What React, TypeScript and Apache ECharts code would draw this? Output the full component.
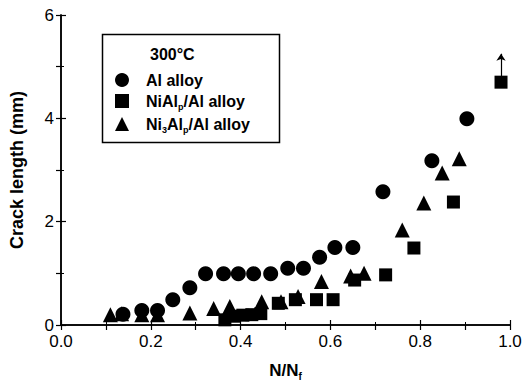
import React, { useEffect, useRef } from 'react';
import * as echarts from 'echarts';

const seriesNames = ['Al alloy', 'NiAlp/Al alloy', 'Ni3Alp/Al alloy'];
const legendTitle = '300°C';
const xTicks = [0, 0.2, 0.4, 0.6, 0.8, 1.0];
const yTicks = [0, 2, 4, 6];

const alAlloy: [number, number][] = [
  [0.138, 0.21], [0.18, 0.28], [0.215, 0.28], [0.249, 0.49], [0.287, 0.72],
  [0.322, 0.99], [0.362, 0.99], [0.395, 0.99], [0.429, 0.99], [0.467, 0.99],
  [0.505, 1.1], [0.54, 1.1], [0.576, 1.31], [0.61, 1.5], [0.65, 1.5],
  [0.717, 2.58], [0.826, 3.18], [0.904, 3.99],
];
const niAlp: [number, number][] = [
  [0.365, 0.1], [0.385, 0.17], [0.405, 0.19], [0.425, 0.2], [0.445, 0.22],
  [0.484, 0.42], [0.522, 0.49], [0.569, 0.49], [0.606, 0.49], [0.654, 0.87],
  [0.723, 0.97], [0.786, 1.49], [0.874, 2.38], [0.98, 4.7],
];
const ni3Alp: [number, number][] = [
  [0.11, 0.2], [0.135, 0.22], [0.18, 0.2], [0.215, 0.2], [0.287, 0.23],
  [0.34, 0.32], [0.376, 0.36], [0.447, 0.45], [0.49, 0.45], [0.528, 0.55],
  [0.58, 0.84], [0.645, 0.95], [0.675, 1.0], [0.76, 1.84], [0.808, 2.36],
  [0.849, 2.94], [0.887, 3.22],
];
const arrowFrom: [number, number] = [0.98, 4.8];
const arrowTo: [number, number] = [0.98, 5.25];

const FONT = 'Liberation Sans, Arial, sans-serif';

export default function App() {
  const ref = useRef<HTMLDivElement>(null);
  useEffect(() => {
    document.body.style.margin = '0';
    const chart = echarts.init(ref.current!, null, { renderer: 'svg' });
    const axisLine = { show: true, lineStyle: { color: '#000', width: 1.5 } };
    const richLegend = {
      g: { width: 12 },
      a: { fontFamily: FONT, fontWeight: 'bold', fontSize: 16, color: '#000', lineHeight: 18 },
      s: { fontFamily: FONT, fontWeight: 'bold', fontSize: 9, color: '#000', padding: [11, 0, 0, 0] },
    };
    const markerStyle = { color: '#000', opacity: 1 };
    chart.setOption({
      animation: false,
      backgroundColor: '#fff',
      grid: { left: 59, right: 19, top: 15, bottom: 67 },
      xAxis: [
        {
          type: 'value', min: 0, max: 1, interval: 0.2,
          axisLine,
          axisTick: { show: true, inside: true, length: 5, lineStyle: { color: '#000', width: 1.2 } },
          minorTick: { show: true, splitNumber: 2, length: 3, lineStyle: { color: '#000', width: 1 } },
          splitLine: { show: false },
          axisLabel: {
            fontFamily: FONT, fontSize: 17, color: '#000', margin: 8,
            formatter: (v: number) => (xTicks.includes(Math.round(v * 10) / 10) ? v.toFixed(1) : ''),
          },
          name: '{b|N/N}{s|f}',
          nameLocation: 'middle',
          nameGap: 35,
          nameTextStyle: {
            rich: {
              b: { fontFamily: FONT, fontWeight: 'bold', fontSize: 17, color: '#000' },
              s: { fontFamily: FONT, fontWeight: 'bold', fontSize: 10, color: '#000', padding: [11, 0, 0, 0] },
            },
          },
        },
        {
          type: 'value', position: 'top', min: 0, max: 1, interval: 0.1,
          axisLine,
          axisTick: { show: true, inside: true, length: 5, lineStyle: { color: '#000', width: 1.2 } },
          axisLabel: { show: false },
          splitLine: { show: false },
        },
      ],
      yAxis: [
        {
          type: 'value', min: 0, max: 6, interval: 2,
          axisLine,
          axisTick: { show: true, inside: true, length: 5, lineStyle: { color: '#000', width: 1.2 } },
          minorTick: { show: true, splitNumber: 2, length: 3, lineStyle: { color: '#000', width: 1 } },
          splitLine: { show: false },
          axisLabel: {
            fontFamily: FONT, fontSize: 17, color: '#000', margin: 7,
            formatter: (v: number) => (yTicks.includes(v) ? String(v) : ''),
          },
          name: 'Crack length (mm)',
          nameLocation: 'middle',
          nameGap: 35,
          nameTextStyle: { fontFamily: FONT, fontWeight: 'bold', fontSize: 18, color: '#000' },
        },
        {
          type: 'value', position: 'right', min: 0, max: 6, interval: 1,
          axisLine,
          axisTick: { show: true, inside: true, length: 5, lineStyle: { color: '#000', width: 1.2 } },
          axisLabel: { show: false },
          splitLine: { show: false },
        },
      ],
      legend: {
        orient: 'vertical',
        left: 115,
        top: 72,
        itemWidth: 14,
        itemHeight: 14,
        itemGap: 5,
        padding: 0,
        data: seriesNames,
        itemStyle: { opacity: 1 },
        formatter: (name: string) => {
          if (name === seriesNames[1]) return '{g|}{a|NiAl}{s|p}{a|/Al alloy}';
          if (name === seriesNames[2]) return '{g|}{a|Ni}{s|3}{a|Al}{s|p}{a|/Al alloy}';
          return '{g|}{a|Al alloy}';
        },
        textStyle: { rich: richLegend },
        selectedMode: false,
      },
      graphic: [
        {
          type: 'rect', left: 100, top: 32,
          shape: { x: 0, y: 0, width: 177, height: 108 },
          style: { fill: 'none', stroke: '#000', lineWidth: 1.5 },
          z: 10,
        },
        {
          type: 'text', left: 150, top: 46,
          style: { text: legendTitle, fontFamily: FONT, fontWeight: 'bold', fontSize: 16, fill: '#000' },
          z: 10,
        },
      ],
      series: [
        {
          name: seriesNames[0], type: 'scatter', symbol: 'circle', symbolSize: 15,
          itemStyle: markerStyle, data: alAlloy,
        },
        {
          name: seriesNames[1], type: 'scatter', symbol: 'rect', symbolSize: 13,
          itemStyle: markerStyle, data: niAlp,
          markLine: {
            silent: true,
            symbol: ['none', 'arrow'],
            symbolSize: 7,
            label: { show: false },
            lineStyle: { color: '#000', width: 1.2, type: 'solid', opacity: 1 },
            itemStyle: { color: '#000', opacity: 1 },
            data: [[{ coord: arrowFrom }, { coord: arrowTo }]],
          },
        },
        {
          name: seriesNames[2], type: 'scatter', symbol: 'triangle', symbolSize: 15,
          itemStyle: markerStyle, data: ni3Alp,
        },
      ],
    });
    return () => chart.dispose();
  }, []);
  return <div ref={ref} style={{ width: 529, height: 392 }} />;
}
